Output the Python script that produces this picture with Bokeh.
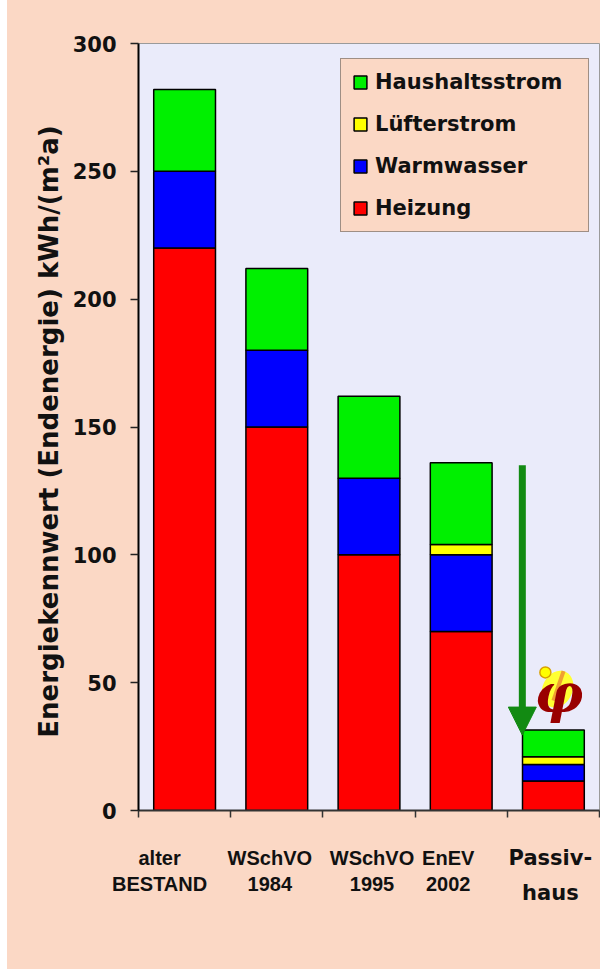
from bokeh.plotting import figure
from bokeh.models import (Legend, LegendItem, Arrow, NormalHead, Range1d,
                          FixedTicker, Spacer, ColumnDataSource)
from bokeh.layouts import row, column
from bokeh.embed import file_html
from bokeh.resources import INLINE
from bokeh.core.properties import value

# ---------------- data ----------------
categories = ["alter BESTAND", "WSchVO 1984", "WSchVO 1995", "EnEV 2002", "Passivhaus"]
label_line1 = ["alter", "WSchVO", "WSchVO", "EnEV", "Passiv-"]
label_line2 = ["BESTAND", "1984", "1995", "2002", "haus"]
heizung = [220, 150, 100, 70, 11.5]
warmwasser = [30, 30, 30, 30, 6.5]
luefterstrom = [0, 0, 0, 4, 3]
haushaltsstrom = [32, 32, 32, 32, 10.5]
series_names = ["Heizung", "Warmwasser", "Lüfterstrom", "Haushaltsstrom"]
y_ticks = [0, 50, 100, 150, 200, 250, 300]

# ---------------- style ----------------
PEACH = "#FBD8C5"
LAVENDER = "#EAEBFA"
colors = ["#FF0000", "#0000FF", "#FFFF00", "#00F000"]
ARROW_GREEN = "#128A12"

FIG_W = 593
LEFT = 131
RIGHT = 1
MAIN_H = 822
LAB_H = 969 - MAIN_H

n = len(categories)
xpos = [i + 0.5 for i in range(n)]
src = ColumnDataSource(dict(x=xpos, heizung=heizung, warmwasser=warmwasser,
                            luefterstrom=luefterstrom, haushaltsstrom=haushaltsstrom))

p = figure(width=FIG_W, height=MAIN_H, x_range=Range1d(0, n), y_range=Range1d(0, 300),
           output_backend="svg", toolbar_location=None,
           min_border_left=LEFT, min_border_right=RIGHT, min_border_top=43, min_border_bottom=12,
           background_fill_color=LAVENDER, border_fill_color=PEACH,
           outline_line_color="#9a9a9a", outline_line_width=1)
p.frame_align = False
p.xgrid.visible = False
p.ygrid.visible = False

rs = p.vbar_stack(["heizung", "warmwasser", "luefterstrom", "haushaltsstrom"], x="x",
                  width=0.67, fill_color=colors, line_color="black", line_width=1.5, source=src)

# y axis
p.yaxis.ticker = FixedTicker(ticks=y_ticks)
p.yaxis.axis_line_color = "black"
p.yaxis.axis_line_width = 2
p.yaxis.major_tick_out = 8
p.yaxis.major_tick_in = 0
p.yaxis.major_tick_line_color = "#222222"
p.yaxis.major_tick_line_width = 1.5
p.yaxis.minor_tick_out = 0
p.yaxis.minor_tick_in = 0
p.yaxis.major_label_standoff = 14
p.yaxis.major_label_text_font = "DejaVu Sans"
p.yaxis.major_label_text_font_style = "bold"
p.yaxis.major_label_text_font_size = "21px"
p.yaxis.major_label_text_color = "#111111"
p.yaxis.axis_label = "Energiekennwert  (Endenergie) kWh/(m²a)"
p.yaxis.axis_label_text_font = "DejaVu Sans"
p.yaxis.axis_label_text_font_style = "bold"
p.yaxis.axis_label_text_font_size = "26px"
p.yaxis.axis_label_text_color = "#111111"
p.yaxis.axis_label_standoff = 6

# x axis: tick marks between the bars, no labels here
p.xaxis.ticker = FixedTicker(ticks=list(range(n + 1)))
p.xaxis.major_label_overrides = {i: "" for i in range(n + 1)}
p.xaxis.major_label_text_font_size = "1px"
p.xaxis.major_label_standoff = 0
p.xaxis.axis_line_color = "#333333"
p.xaxis.axis_line_width = 2
p.xaxis.major_tick_out = 7
p.xaxis.major_tick_in = 0
p.xaxis.major_tick_line_color = "#333333"
p.xaxis.major_tick_line_width = 1.5
p.xaxis.minor_tick_out = 0
p.xaxis.minor_tick_in = 0

# legend (top-down order as in the reference)
items = [LegendItem(label=series_names[k], renderers=[rs[k]]) for k in (3, 2, 1, 0)]
legend = Legend(items=items, location=(202, 578), orientation="vertical",
                label_text_font="DejaVu Sans", label_text_font_style="bold",
                label_text_font_size="21px", label_text_color="#111111",
                glyph_width=16, glyph_height=16, label_standoff=7, spacing=18,
                label_width=202, padding=11, margin=0,
                background_fill_color=PEACH, background_fill_alpha=1.0,
                border_line_color="#444444", border_line_width=1)
p.add_layout(legend)

# green arrow towards Passivhaus
p.add_layout(Arrow(end=NormalHead(size=28, fill_color=ARROW_GREEN, line_color=ARROW_GREEN),
                   x_start=4.163, y_start=135, x_end=4.163, y_end=29.5,
                   line_color=ARROW_GREEN, line_width=7))

# Passivhaus logo (approximation)
p.ellipse(x=[4.545], y=[47.5], width=30, height=38, width_units="screen", height_units="screen",
          angle=-0.45, fill_color="#FFFF33", line_color=None)
p.segment(x0=[4.61], y0=[54.5], x1=[4.50], y1=[43], line_color="#F0A030", line_width=4)
p.scatter(x=[4.413], y=[54], size=11, fill_color="#FFFF00", line_color="#D9A000", line_width=1.5)
p.text(x=[4.56], y=[46], text=["φ"], text_font=value("DejaVu Serif"), text_font_style="bold italic",
       text_font_size="54px", text_color="#990000", text_align="center", text_baseline="middle")

# ---------------- category labels (separate strip aligned with the main x scale) ----------------
px_per_unit = (FIG_W - LEFT - RIGHT) / n
x0 = -LEFT / px_per_unit
x1 = x0 + FIG_W / px_per_unit
q = figure(width=FIG_W, height=LAB_H, x_range=Range1d(x0, x1), y_range=Range1d(0, LAB_H),
           output_backend="svg", toolbar_location=None, x_axis_type=None, y_axis_type=None,
           min_border=0, background_fill_color=PEACH, border_fill_color=PEACH,
           outline_line_color=None)
q.frame_align = False
q.xgrid.visible = False
q.ygrid.visible = False

x_offsets = [-25, -7, 3, -13, -3]
lab_src = ColumnDataSource(dict(x=xpos[:n - 1], l1=label_line1[:n - 1], l2=label_line2[:n - 1],
                                xo=x_offsets[:n - 1]))
common = dict(text_align="center", text_baseline="alphabetic", text_font_style="bold",
              text_color="#111111")
q.text(x="x", y=LAB_H - 35, text="l1", x_offset="xo", source=lab_src,
       text_font=value("Liberation Sans"), text_font_size="20px", **common)
q.text(x="x", y=LAB_H - 61, text="l2", x_offset="xo", source=lab_src,
       text_font=value("Liberation Sans"), text_font_size="20px", **common)
q.text(x=[xpos[-1]], y=[LAB_H - 35], text=[label_line1[-1]], x_offset=x_offsets[-1],
       text_font=value("DejaVu Sans"), text_font_size="21px", **common)
q.text(x=[xpos[-1]], y=[LAB_H - 70], text=[label_line2[-1]], x_offset=x_offsets[-1],
       text_font=value("DejaVu Sans"), text_font_size="21px", **common)

charts = column(p, q, styles={"background-color": PEACH})
layout = row(Spacer(width=7, height=969), charts)
open("out.html", "w").write(file_html(layout, INLINE))
